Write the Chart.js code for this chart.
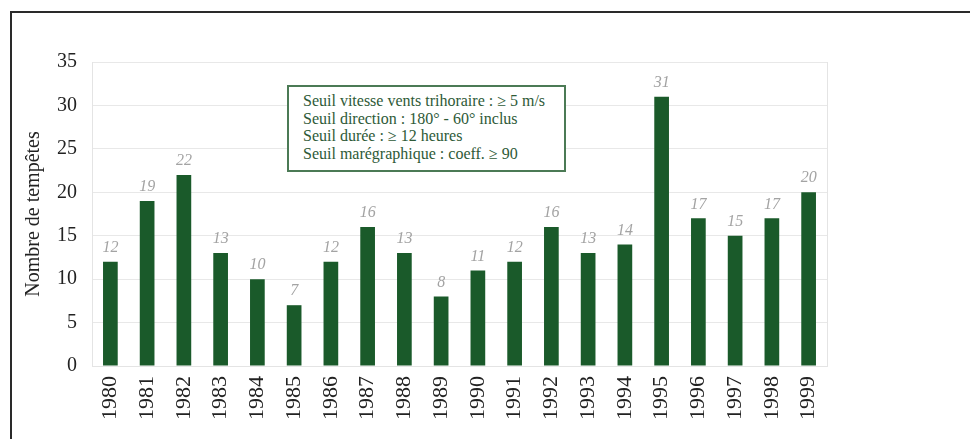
<!DOCTYPE html>
<html>
<head>
<meta charset="utf-8">
<script src="https://cdn.jsdelivr.net/npm/chart.js@4.4.1/dist/chart.umd.min.js"></script>
<style>
  html, body { margin: 0; padding: 0; background: #fff; }
  #wrap { position: relative; width: 970px; height: 439px; overflow: hidden; }
  #frame { position: absolute; left: 10px; top: 11px; width: 980px; height: 450px;
           border-top: 2px solid #2a2a2a; border-left: 2px solid #2a2a2a; box-sizing: border-box; pointer-events: none; }
  #note { position: absolute; left: 287px; top: 85px; width: 279px; height: 87px; box-sizing: border-box;
          border: 2px solid #4b7a55; background: #fff; padding: 5px 0 0 14px;
          font-family: 'Liberation Serif', 'DejaVu Serif', serif; font-size: 16px; line-height: 17.5px; color: #2e5a37; }
  #note div { white-space: nowrap; }
</style>
</head>
<body>
<div id="wrap">
  <canvas id="c" width="970" height="439"></canvas>
  <div id="frame"></div>
  <div id="note">
    <div>Seuil vitesse vents trihoraire : ≥ 5 m/s</div>
    <div>Seuil direction : 180° - 60° inclus</div>
    <div>Seuil durée : ≥ 12 heures</div>
    <div>Seuil marégraphique : coeff. ≥ 90</div>
  </div>
</div>
<script>
const years = ['1980','1981','1982','1983','1984','1985','1986','1987','1988','1989',
               '1990','1991','1992','1993','1994','1995','1996','1997','1998','1999'];
const storms = [12, 19, 22, 13, 10, 7, 12, 16, 13, 8, 11, 12, 16, 13, 14, 31, 17, 15, 17, 20];
const yTicks = [0, 5, 10, 15, 20, 25, 30, 35];
const yTitle = 'Nombre de tempêtes';

const serif = "'Liberation Serif', 'DejaVu Serif', serif";

const valueLabels = {
  id: 'valueLabels',
  afterDatasetsDraw(chart) {
    const ctx = chart.ctx;
    const meta = chart.getDatasetMeta(0);
    ctx.save();
    ctx.font = 'italic 16px ' + serif;
    ctx.fillStyle = '#a3a3a3';
    ctx.textAlign = 'center';
    ctx.textBaseline = 'bottom';
    meta.data.forEach((bar, i) => {
      ctx.fillText(String(storms[i]), bar.x, bar.y - 6);
    });
    ctx.restore();
  }
};

const rightBorder = {
  id: 'rightBorder',
  beforeDatasetsDraw(chart) {
    const a = chart.chartArea, ctx = chart.ctx;
    ctx.save();
    ctx.strokeStyle = '#e4e4e4';
    ctx.lineWidth = 1;
    ctx.beginPath();
    ctx.moveTo(Math.round(a.right) + 0.5, a.top);
    ctx.lineTo(Math.round(a.right) + 0.5, a.bottom);
    ctx.stroke();
    ctx.restore();
  }
};

new Chart(document.getElementById('c'), {
  type: 'bar',
  data: {
    labels: years,
    datasets: [{
      data: storms,
      backgroundColor: '#1a5a2a',
      borderWidth: 0,
      categoryPercentage: 1.0,
      barPercentage: 0.4
    }]
  },
  options: {
    responsive: false,
    animation: false,
    layout: { padding: { left: 20, right: 143, top: 62, bottom: 0 } },
    plugins: { legend: { display: false }, tooltip: { enabled: false } },
    scales: {
      x: {
        grid: { display: false, drawTicks: false },
        border: { color: '#e4e4e4' },
        ticks: {
          color: '#222', font: { family: serif, size: 22 },
          maxRotation: 90, minRotation: 90, padding: 10, autoSkip: false
        },
        afterFit(s) { s.height = 73; }
      },
      y: {
        min: 0, max: 35,
        afterBuildTicks(s) { s.ticks = yTicks.map(v => ({ value: v })); },
        grid: { color: '#e8e8e8', drawTicks: false },
        border: { color: '#e4e4e4' },
        ticks: { color: '#222', font: { family: serif, size: 20 }, padding: 15 },
        title: { display: true, text: yTitle, color: '#222', font: { family: serif, size: 20 }, padding: { top: 2, bottom: 0 } },
        afterFit(s) { s.width = 72; }
      }
    }
  },
  plugins: [valueLabels, rightBorder]
});
</script>
</body>
</html>
